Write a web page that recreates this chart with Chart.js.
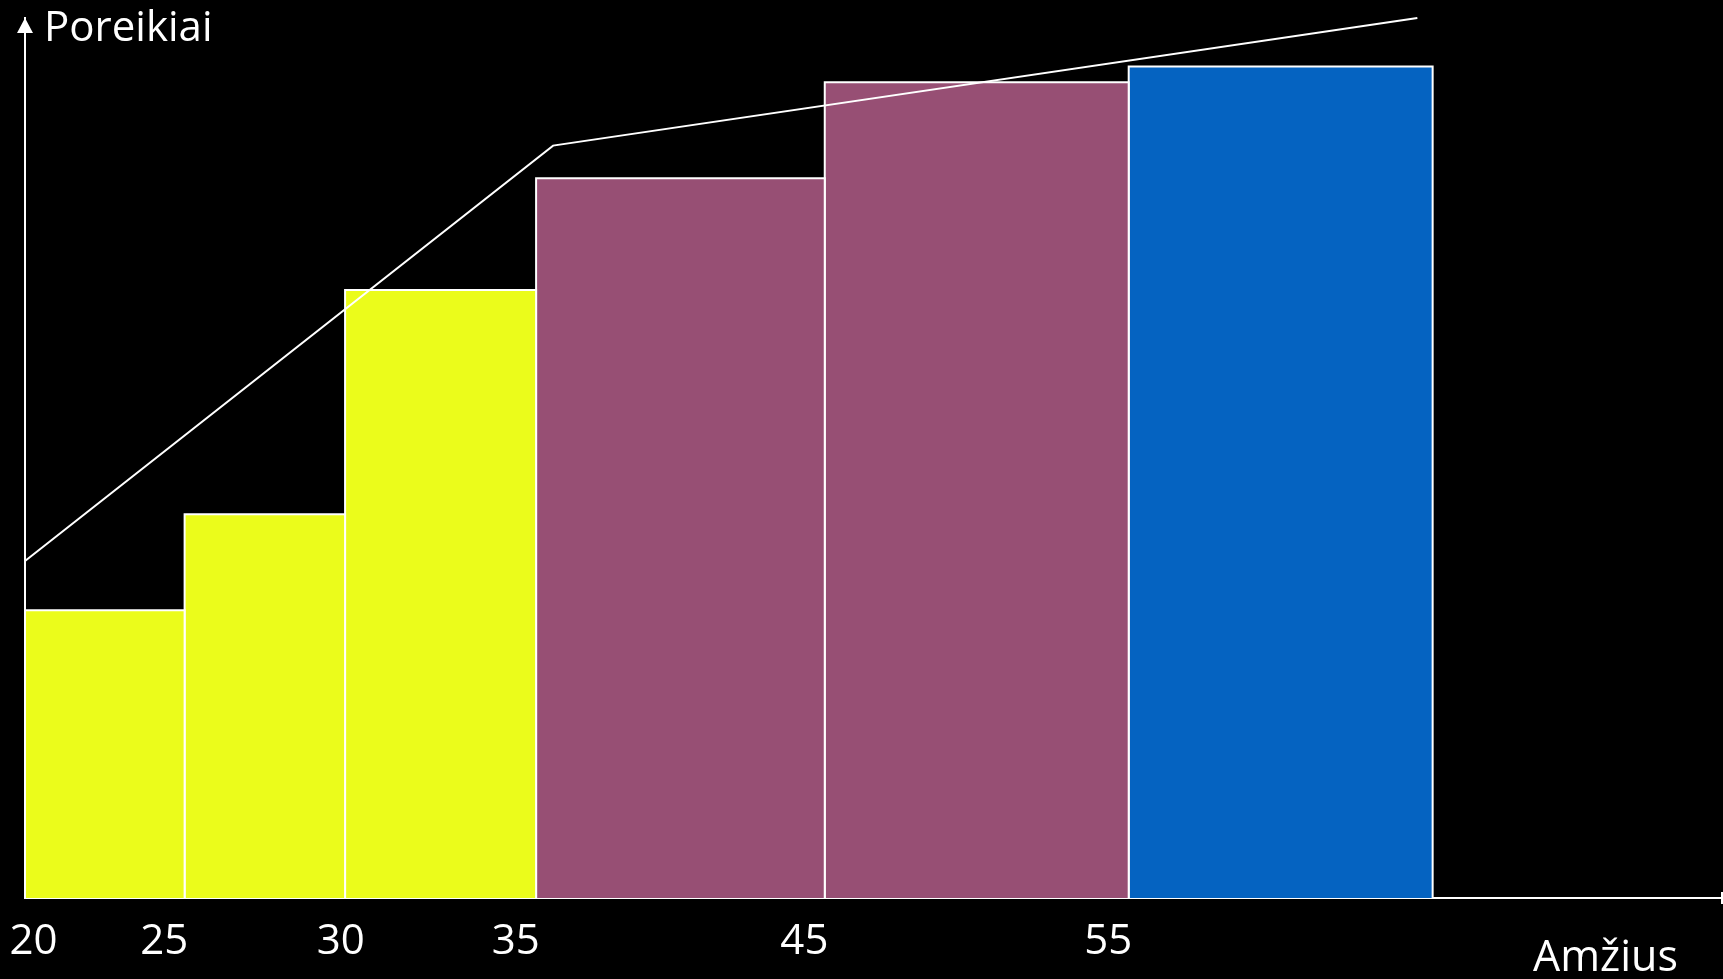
<!DOCTYPE html>
<html>
<head>
<meta charset="utf-8">
<script src="https://cdn.jsdelivr.net/npm/chart.js"></script>
<style>
  html, body { margin: 0; padding: 0; background: #000; overflow: hidden; }
  canvas { display: block; }
</style>
</head>
<body>
<canvas id="needs_chart" width="1723" height="979"></canvas>
<script>
// amžiaus grupės (ašies padalos) - padėtis ašyje procentais
const tickLabels = ['20', '25', '30', '35', '45', '55'];
const tickPos = [0.5, 8.2, 18.6, 28.9, 45.9, 63.8];

// stulpelių kraštai ir aukščiai (schema, 0-100)
const barEdges = [0, 9.4, 18.85, 30.1, 47.1, 65.0, 82.9];
const barHeights = [32.7, 43.6, 69.1, 81.8, 92.7, 94.5];
const barColors = ['#EBFC1B', '#EBFC1B', '#EBFC1B', '#974F74', '#974F74', '#0563C1'];

// poreikių kreivė
const trendX = [0, 31.1, 82.0];
const trendY = [38.3, 85.5, 100];

const xTitle = 'Amžius';
const yTitle = 'Poreikiai';

const FONT = "'Open Sans', 'Noto Sans', sans-serif";

// kiekvienas stulpelis - užpildytas stačiakampis iš 4 taškų
const barSets = barHeights.map((h, i) => ({
  type: 'line',
  data: [
    { x: barEdges[i], y: 0 },
    { x: barEdges[i], y: h },
    { x: barEdges[i + 1], y: h },
    { x: barEdges[i + 1], y: 0 }
  ],
  borderColor: '#ffffff',
  borderWidth: 2,
  backgroundColor: barColors[i],
  fill: 'origin',
  pointRadius: 0,
  tension: 0,
  borderJoinStyle: 'miter',
  order: 2
}));

const trendSet = {
  type: 'line',
  data: trendX.map((x, i) => ({ x: x, y: trendY[i] })),
  borderColor: '#ffffff',
  borderWidth: 2,
  fill: false,
  pointRadius: 0,
  tension: 0,
  clip: false,
  order: 0
};

// rodyklė, ašių pavadinimai
const overlay = {
  id: 'overlay',
  afterDraw(chart) {
    const c = chart.ctx;
    const a = chart.chartArea;
    c.save();
    c.fillStyle = '#ffffff';
    c.strokeStyle = '#ffffff';
    // rodyklė y ašies viršuje
    c.beginPath();
    c.moveTo(a.left, a.top);
    c.lineTo(a.left - 8, a.top + 15);
    c.lineTo(a.left + 8, a.top + 15);
    c.closePath();
    c.fill();
    // x ašies galas
    c.lineWidth = 2;
    c.beginPath();
    c.moveTo(a.right - 1, a.bottom - 6);
    c.lineTo(a.right - 1, a.bottom + 6);
    c.stroke();
    // tekstai
    c.font = '42px ' + FONT;
    c.textBaseline = 'alphabetic';
    c.textAlign = 'left';
    c.fillText(yTitle, 44, 41);
    c.font = '43px ' + FONT;
    c.fillText(xTitle, 1533, 971);
    c.restore();
  }
};

const cfg = {
  type: 'line',
  data: { datasets: [...barSets, trendSet] },
  options: {
    responsive: false,
    devicePixelRatio: 1,
    animation: false,
    events: [],
    layout: { padding: { top: 18, left: 0, right: 0, bottom: 0 } },
    plugins: {
      legend: { display: false },
      tooltip: { enabled: false }
    },
    scales: {
      x: {
        type: 'linear',
        min: 0,
        max: 100,
        afterBuildTicks: scale => { scale.ticks = tickPos.map(v => ({ value: v })); },
        afterFit: scale => {
          scale.height = 81;
          scale.paddingLeft = 0;
          scale.paddingRight = 0;
        },
        ticks: {
          autoSkip: false,
          maxRotation: 0,
          color: '#ffffff',
          padding: 19,
          font: { family: FONT, size: 42 },
          callback: (v, i) => tickLabels[i]
        },
        grid: { display: false, drawTicks: false },
        border: { display: true, color: '#ffffff', width: 2 }
      },
      y: {
        min: 0,
        max: 100,
        afterFit: scale => { scale.width = 25; },
        ticks: { display: false },
        grid: { display: false, drawTicks: false },
        border: { display: true, color: '#ffffff', width: 2 }
      }
    }
  },
  plugins: [overlay]
};

const needsChart = new Chart(document.getElementById('needs_chart').getContext('2d'), cfg);
</script>
</body>
</html>
